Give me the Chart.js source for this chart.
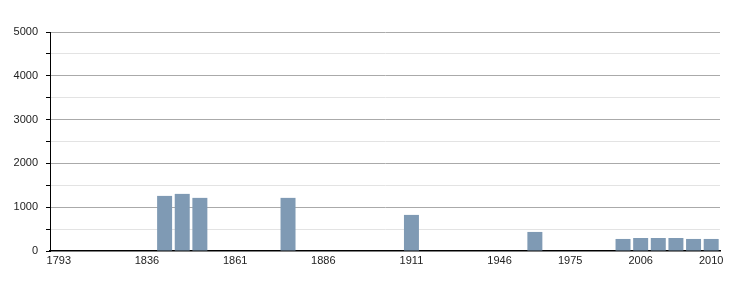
<!DOCTYPE html>
<html>
<head>
<meta charset="utf-8">
<script src="https://cdn.jsdelivr.net/npm/chart.js@4"></script>
<style>
	html, body { margin: 0; padding: 0; background: #fff; }
	#wrap { width: 750px; height: 300px; }
</style>
</head>
<body>
<div id="wrap"><canvas id="graph" width="750" height="300"></canvas></div>
<script>
// 연도 (census slots)
var years = ['1793','1800','1806','1821','1831','1836','1841','1846','1851','1856',
	'1861','1866','1872','1876','1881','1886','1891','1896','1901','1906',
	'1911','1921','1926','1931','1936','1946','1954','1962','1968','1975',
	'1982','1990','1999','2006','2007','2008','2009','2010'];

// population, null = no data
var population = [null,null,null,null,null,null,1258,1304,1213,null,
	null,null,null,1213,null,null,null,null,null,null,
	824,null,null,null,null,null,null,435,null,null,
	null,null,275,297,297,297,275,275];

// labels shown under the axis
var shownLabels = ['1793','1836','1861','1886','1911','1946','1975','2006','2010'];

var yMax = 5000;
var yStep = 500;

var ctx = document.getElementById('graph').getContext('2d');

var myChart = new Chart(ctx, {
	type: 'bar',
	data: {
		labels: years,
		datasets: [{
			data: population,
			backgroundColor: 'rgb(127,154,180)',
			borderWidth: 0,
			barPercentage: 1,
			categoryPercentage: 0.85
		}]
	},
	options: {
		animation: false,
		responsive: false,
		maintainAspectRatio: false,
		layout: { padding: { top: 32, right: 30, bottom: 0, left: 0 } },
		plugins: {
			legend: { display: false },
			tooltip: { enabled: false }
		},
		scales: {
			x: {
				offset: true,
				grid: { display: false, drawTicks: false },
				border: { display: true, color: '#000', width: 1.5 },
				ticks: {
					autoSkip: false,
					maxRotation: 0,
					minRotation: 0,
					padding: 3,
					color: '#222',
					font: { family: "'Liberation Sans', Arial, sans-serif", size: 11 },
					callback: function(value) {
						var lab = this.getLabelForValue(value);
						return shownLabels.indexOf(lab) >= 0 ? lab : '';
					}
				},
				afterFit: function(axis) { axis.height = 49; }
			},
			y: {
				min: 0,
				max: yMax,
				border: { display: true, color: '#000', width: 1 },
				grid: {
					drawTicks: true,
					tickLength: 4,
					tickColor: '#000',
					color: function(context) {
						if (context.tick.value === 0) return 'transparent';
						return context.tick.value % 1000 === 0 ? '#aaaaaa' : '#e3e3e3';
					}
				},
				ticks: {
					stepSize: yStep,
					padding: 8,
					color: '#222',
					font: { family: "'Liberation Sans', Arial, sans-serif", size: 11 },
					callback: function(value) {
						return value % 1000 === 0 ? value : '';
					}
				},
				afterFit: function(axis) { axis.width = 50; }
			}
		}
	}
});
</script>
</body>
</html>
